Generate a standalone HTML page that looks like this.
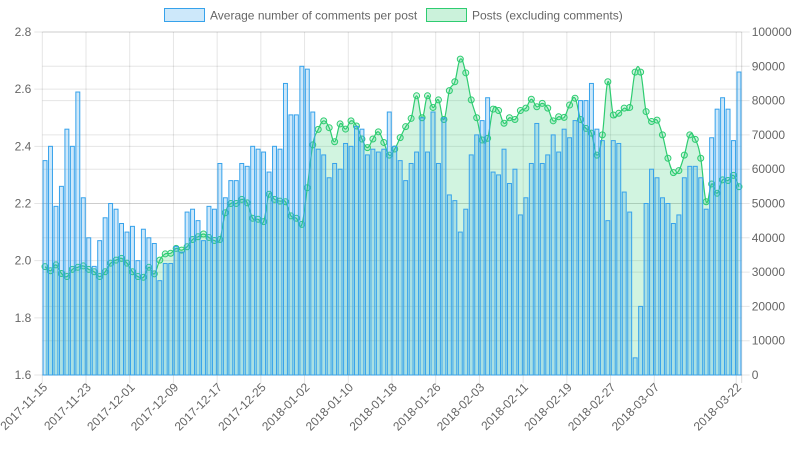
<!DOCTYPE html>
<html><head><meta charset="utf-8">
<style>
html,body{margin:0;padding:0;background:#fff;}
svg{display:block;font-family:"Liberation Sans",sans-serif;}
</style></head>
<body>
<svg id="chart" width="798" height="450" viewBox="0 0 798 450" xmlns="http://www.w3.org/2000/svg">
  <g>
    <g>
      <rect x="164.5" y="8.5" width="40" height="13" fill="rgba(54,162,235,0.25)" stroke="#36a2eb" stroke-width="1"/>
      <text x="210" y="19.5" font-size="12" fill="#666">Average number of comments per post</text>
    </g>
    <g>
      <rect x="426.5" y="8.5" width="40" height="13" fill="rgba(46,204,113,0.25)" stroke="#2ecc71" stroke-width="1"/>
      <text x="472" y="19.5" font-size="12" fill="#666">Posts (excluding comments)</text>
    </g>
  </g>
  <g id="grid"></g>
  <g id="lineLayer"></g>
  <g id="barLayer"></g>
  <g id="axes"></g>
</svg>
<script>
const barValues = [2.35,2.40,2.19,2.26,2.46,2.40,2.59,2.22,2.08,1.98,2.07,2.15,2.20,2.18,2.13,2.10,2.12,2.00,2.11,2.08,2.06,1.93,1.99,1.99,2.05,
2.03,2.17,2.18,2.14,2.07,2.19,2.18,2.34,2.22,2.28,2.28,2.34,2.33,2.40,2.39,2.38,2.31,2.40,2.39,2.62,2.51,2.51,2.68,2.67,
2.52,2.39,2.37,2.29,2.34,2.32,2.41,2.40,2.47,2.46,2.37,2.39,2.38,2.39,2.52,2.40,2.35,2.28,2.34,2.38,2.50,2.38,2.52,
2.34,2.50,2.23,2.21,2.10,2.18,2.37,2.44,2.49,2.57,2.31,2.30,2.39,2.27,2.32,2.16,2.22,2.34,2.48,2.34,2.37,2.44,2.38,2.46,
2.43,2.49,2.56,2.56,2.62,2.46,2.42,2.14,2.42,2.41,2.24,2.17,1.66,1.84,2.20,2.32,2.29,2.22,2.20,2.13,2.16,2.29,2.33,2.33,2.29,2.18,2.43,2.53,2.57,2.53,2.42,2.66];
const postValues = [31600,30400,32100,29600,28700,30800,31400,31800,30800,30100,28700,30100,32600,33500,34000,32600,30100,28700,28500,31400,29500,33500,35300,
35500,36900,36400,37400,39500,40300,41100,40100,39200,39500,47300,50000,50000,51200,50200,45700,45400,44700,52700,51200,50700,50500,46400,45700,43900,54600,
67100,71600,74100,72100,68000,73200,71700,74100,72600,68800,66300,68800,70900,67800,64100,65900,69200,72400,74800,81400,75000,81400,78000,
80200,74500,82900,85500,92100,88100,80200,75000,68500,69000,77500,77100,73400,75000,74500,77100,77800,80400,78200,79200,77800,74100,75300,75100,
78700,80700,74500,71900,70500,64100,70000,85500,75800,76300,77800,78000,88300,88300,76800,73900,74300,70000,63200,59000,59600,64100,70000,68700,63200,50500,55700,53000,56900,56700,58200,54900];
const leftTicks = ["1.6","1.8","2.0","2.2","2.4","2.6","2.8"];
const rightTicks = ["0","10000","20000","30000","40000","50000","60000","70000","80000","90000","100000"];
const startDate = "2017-11-15";
const labelEvery = 8;

const NS = "http://www.w3.org/2000/svg";
const L = 42.3, R = 741.7, T = 32, B = 375;
const n = barValues.length;
const step = (R - L) / n;
const xC = i => L + step * (i + 0.5);
const yL = v => B - (v - 1.6) / 1.2 * (B - T);
const yR = v => B - v / 100000 * (B - T);
function mk(tag, attrs, parent){const e=document.createElementNS(NS,tag);for(const k in attrs)e.setAttribute(k,attrs[k]);parent.appendChild(e);return e;}
const grid = document.getElementById('grid'), axes = document.getElementById('axes');
const lineLayer = document.getElementById('lineLayer'), barLayer = document.getElementById('barLayer');

function dateLabel(i){const d=new Date(startDate+"T00:00:00Z");d.setUTCDate(d.getUTCDate()+i);return d.toISOString().slice(0,10);}

// horizontal grid lines + tick labels
leftTicks.forEach((t)=>{const y=yL(parseFloat(t));
  const g=mk('line',{x1:L-8,x2:R,y1:y,y2:y,stroke:'rgba(0,0,0,0.1)','stroke-width':1},grid);
  
  
  const tx=mk('text',{x:L-11,y:y+4,'text-anchor':'end','font-size':12,fill:'#666'},axes);tx.textContent=t;
  
  
});
rightTicks.forEach((t)=>{const y=yR(parseFloat(t));
  const g=mk('line',{x1:L,x2:R+8,y1:y,y2:y,stroke:'rgba(0,0,0,0.1)','stroke-width':1},grid);
  
  
  const tx=mk('text',{x:R+10,y:y+4,'text-anchor':'start','font-size':12,fill:'#666'},axes);tx.textContent=t;
  
  
});
// vertical grid + x labels
const labelIdx=[];for(let i=0;i<n-8;i+=labelEvery)labelIdx.push(i);labelIdx.push(n-1);
labelIdx.forEach(i=>{const x=L+step*i;
  const g=mk('line',{x1:x,x2:x,y1:T,y2:B+8,stroke:'rgba(0,0,0,0.1)','stroke-width':1},grid);
  
  
  const cx=xC(i);
  const tx=mk('text',{x:cx+3,y:B+13,'text-anchor':'end','font-size':12,fill:'#666',transform:`rotate(-45 ${cx+3} ${B+13})`},axes);
  tx.textContent=dateLabel(i);
  
  
});
mk('line',{x1:R,x2:R,y1:T,y2:B+8,stroke:'rgba(0,0,0,0.15)'},grid);
mk('line',{x1:L,x2:R,y1:B,y2:B,stroke:'rgba(0,0,0,0.25)'},grid);

// line series (smooth)
const pts=postValues.map((v,i)=>[xC(i),yR(v)]);
let d=`M${pts[0][0]},${pts[0][1]}`;
const tens=0.2;
for(let i=0;i<pts.length-1;i++){
  const p0=pts[Math.max(0,i-1)],p1=pts[i],p2=pts[i+1],p3=pts[Math.min(pts.length-1,i+2)];
  const c1=[p1[0]+(p2[0]-p0[0])*tens,p1[1]+(p2[1]-p0[1])*tens];
  const c2=[p2[0]-(p3[0]-p1[0])*tens,p2[1]-(p3[1]-p1[1])*tens];
  d+=` C${c1[0]},${c1[1]} ${c2[0]},${c2[1]} ${p2[0]},${p2[1]}`;
}
const area=mk('path',{d:d+` L${pts[pts.length-1][0]},${B} L${pts[0][0]},${B} Z`,fill:'rgba(46,204,113,0.22)',stroke:'none'},lineLayer);


const ln=mk('path',{d:d,fill:'none',stroke:'#2ecc71','stroke-width':1.2},lineLayer);


pts.forEach(p=>{const c=mk('circle',{cx:p[0],cy:p[1],r:3,fill:'rgba(46,204,113,0.2)',stroke:'#2ecc71','stroke-width':1},lineLayer);
  
  
});

// bars
const bw=step*0.72;
barValues.forEach((v,i)=>{const y=yL(v);
  const r=mk('rect',{x:xC(i)-bw/2,y:y,width:bw,height:B-y,fill:'rgba(54,162,235,0.25)',stroke:'#36a2eb','stroke-width':1},barLayer);
  
  
});
</script>
</body></html>
